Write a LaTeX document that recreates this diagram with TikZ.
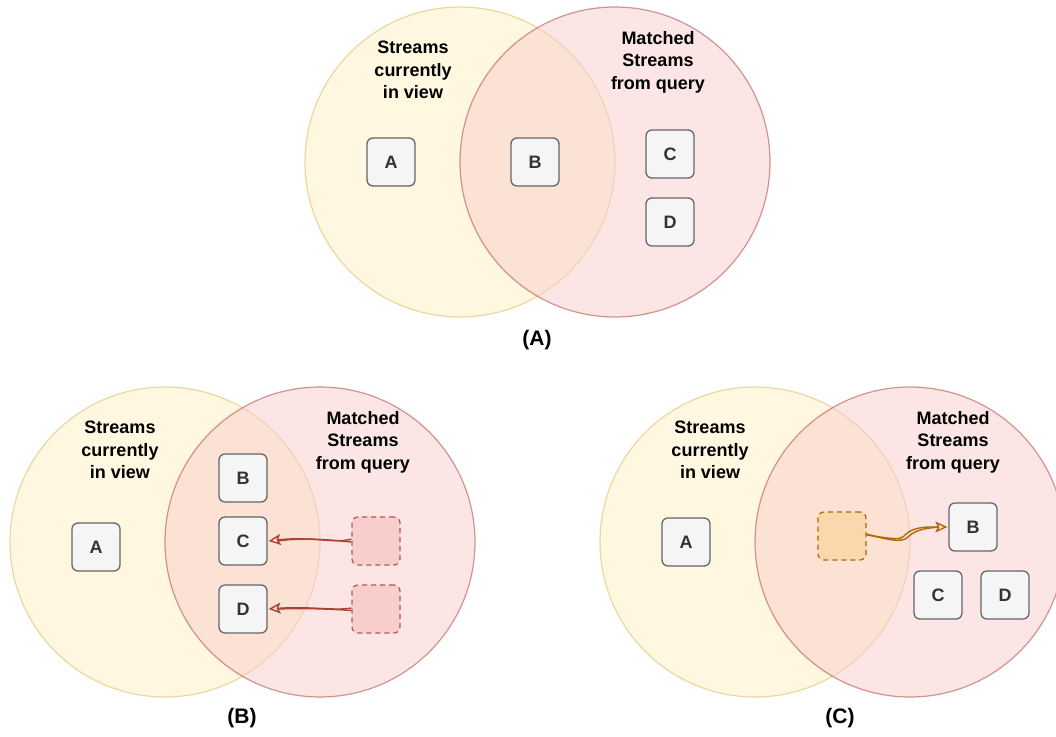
\documentclass[tikz,border=0pt]{standalone}
\usepackage{fontspec}
\setmainfont{Liberation Sans}
\usetikzlibrary{arrows.meta}
\definecolor{ylfill}{HTML}{FFF2CC}
\definecolor{ylstroke}{HTML}{D6B656}
\definecolor{pkfill}{HTML}{F8CECC}
\definecolor{pkstroke}{HTML}{B85450}
\definecolor{gyfill}{HTML}{F5F5F5}
\definecolor{gystroke}{HTML}{666666}
\definecolor{gytext}{HTML}{333333}
\definecolor{orfill}{HTML}{FAD7AC}
\definecolor{orstroke}{HTML}{B46504}
\definecolor{redarrow}{HTML}{AE4132}
\tikzset{
  yl/.style={circle, minimum size=310pt, inner sep=0pt, fill=ylfill, draw=ylstroke, fill opacity=0.6, draw opacity=0.5, line width=1.2pt},
  pk/.style={circle, minimum size=310pt, inner sep=0pt, fill=pkfill, draw=pkstroke, fill opacity=0.5, draw opacity=0.6, line width=1.2pt},
  sbox/.style={rectangle, rounded corners=6pt, minimum size=48pt, inner sep=0pt, fill=gyfill, draw=gystroke, line width=1.3pt, text=gytext, font=\fontsize{18}{20}\selectfont\bfseries},
  pkbox/.style={rectangle, rounded corners=6pt, minimum size=48pt, inner sep=0pt, fill=pkfill, draw=pkstroke, dash pattern=on 5pt off 4pt, line width=1.2pt},
  orbox/.style={rectangle, rounded corners=6pt, minimum size=48pt, inner sep=0pt, fill=orfill, draw=orstroke, dash pattern=on 5pt off 4pt, line width=1.2pt},
  lbl/.style={align=center, font=\fontsize{18}{22.5}\selectfont\bfseries, text=black},
  captxt/.style={font=\fontsize{21}{24}\selectfont\bfseries, text=black},
  rarr/.style={draw=redarrow, line width=1.4pt},
  oarr/.style={draw=orstroke, line width=1.4pt},
  ahead/.style={-{Stealth[open, inset=2.5pt, length=12pt, width=11pt, line width=1.4pt]}},
}
\begin{document}
\begin{tikzpicture}[x=1pt,y=-1pt]
\useasboundingbox (0,0) rectangle (1056,736);
\clip (0,0) rectangle (1056,736);
\fill[white] (0,0) rectangle (1056,736);
% ===== (A) =====
\node[yl] (ya) at (460,162) {};
\node[pk] (pa) at (615,162) {};
\node[lbl] (ta1) at (413,70) {Streams\\currently\\in view};
\node[lbl] (ta2) at (658,62) {Matched\\Streams\\from query};
\node[sbox] (aA) at (391,162) {A};
\node[sbox] (aB) at (535,162) {B};
\node[sbox] (aC) at (670,154) {C};
\node[sbox] (aD) at (670,222) {D};
\node[captxt] (capA) at (537,340) {(A)};
% ===== (B) =====
\node[yl] (yb) at (165,542) {};
\node[pk] (pb) at (320,542) {};
\node[lbl] (tb1) at (120,450) {Streams\\currently\\in view};
\node[lbl] (tb2) at (363,442) {Matched\\Streams\\from query};
\node[sbox] (bA) at (96,547) {A};
\node[sbox] (bB) at (243,478) {B};
\node[sbox] (bC) at (243,541) {C};
\node[sbox] (bD) at (243,609) {D};
\node[pkbox] (bX) at (376,541) {};
\node[pkbox] (bY) at (376,609) {};
\draw[rarr, ahead] ([yshift=2pt]bX.west) .. controls (335,544) and (310,536) .. ([xshift=1pt]bC.east);
\draw[rarr] ([yshift=-1pt]bX.west) .. controls (330,540) and (305,537) .. ([xshift=10pt]bC.east);
\draw[rarr, ahead] ([yshift=1pt]bY.west) .. controls (335,611) and (310,606) .. ([xshift=1pt]bD.east);
\draw[rarr] ([yshift=-1.5pt]bY.west) .. controls (330,609) and (305,608) .. ([xshift=10pt]bD.east);
\node[captxt] (capB) at (242,718) {(B)};
% ===== (C) =====
\node[yl] (yc) at (755,542) {};
\node[pk] (pc) at (910,542) {};
\node[lbl] (tc1) at (710,450) {Streams\\currently\\in view};
\node[lbl] (tc2) at (953,442) {Matched\\Streams\\from query};
\node[sbox] (cA) at (686,542) {A};
\node[orbox] (cX) at (842,536) {};
\node[sbox] (cB) at (973,527) {B};
\node[sbox] (cC) at (938,595) {C};
\node[sbox] (cD) at (1005,595) {D};
\draw[oarr, ahead] ([yshift=1pt]cX.east) .. controls (895,539) and (900,541) .. (906,534) .. controls (915,526) and (930,527) .. ([xshift=-1pt]cB.west);
\draw[oarr] ([yshift=2pt]cX.east) .. controls (895,542) and (904,542) .. (909,536) .. controls (918,528) and (932,528) .. ([xshift=-10pt]cB.west);
\node[captxt] (capC) at (840,718) {(C)};
\end{tikzpicture}
\end{document}
